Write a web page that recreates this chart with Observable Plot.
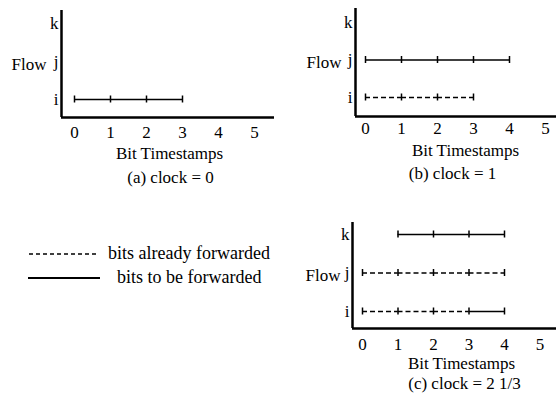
<!DOCTYPE html>
<html><head><meta charset="utf-8">
<script src="https://cdn.jsdelivr.net/npm/d3@7"></script>
<script src="https://cdn.jsdelivr.net/npm/@observablehq/plot@0.6"></script>
<style>
html,body{margin:0;padding:0;background:#fff;}
#root{position:relative;width:556px;height:394px;overflow:hidden;background:#fff;font-family:"Liberation Serif",serif;}
#root > svg{position:absolute;}
#root svg, #root svg text{font-family:"Liberation Serif",serif !important;}
</style></head><body><div id="root"></div>
<script>
const flows = ["i", "j", "k"];
const xTicks = [0, 1, 2, 3, 4, 5];
const captions = ["(a) clock = 0", "(b) clock = 1", "(c) clock = 2 1/3"];
const xLabel = "Bit Timestamps";
const yLabel = "Flow";
const legendLabels = ["bits already forwarded", "bits to be forwarded"];

// each bit: flow, start timestamp, end timestamp, already forwarded?
const bitsA = [
  {flow: "i", start: 0, end: 1, forwarded: false},
  {flow: "i", start: 1, end: 2, forwarded: false},
  {flow: "i", start: 2, end: 3, forwarded: false}
];
const bitsB = [
  {flow: "i", start: 0, end: 1, forwarded: true},
  {flow: "i", start: 1, end: 2, forwarded: true},
  {flow: "i", start: 2, end: 3, forwarded: true},
  {flow: "j", start: 0, end: 1, forwarded: false},
  {flow: "j", start: 1, end: 2, forwarded: false},
  {flow: "j", start: 2, end: 3, forwarded: false},
  {flow: "j", start: 3, end: 4, forwarded: false}
];
const bitsC = [
  {flow: "i", start: 0, end: 1, forwarded: true},
  {flow: "i", start: 1, end: 2, forwarded: true},
  {flow: "i", start: 2, end: 3, forwarded: true},
  {flow: "i", start: 3, end: 4, forwarded: false},
  {flow: "j", start: 0, end: 1, forwarded: true},
  {flow: "j", start: 1, end: 2, forwarded: true},
  {flow: "j", start: 2, end: 3, forwarded: true},
  {flow: "j", start: 3, end: 4, forwarded: true},
  {flow: "k", start: 1, end: 2, forwarded: false},
  {flow: "k", start: 2, end: 3, forwarded: false},
  {flow: "k", start: 3, end: 4, forwarded: false}
];

const FONT = "Liberation Serif";
const root = document.getElementById("root");

function panel(bits, caption, g) {
  const W = 300, H = 200;
  const right = g.axisLeft + 213;
  const unitY = (g.rowI - g.rowK) / 2;
  const xd = [(g.axisLeft - g.zeroX) / g.unit, (right - g.zeroX) / g.unit];
  const yd = [(g.rowI - g.axisBottom) / unitY, (g.rowI - g.yTop) / unitY];
  const row = d => flows.indexOf(d.flow);
  const edges = [];
  const seen = new Set();
  for (const b of bits) for (const x of [b.start, b.end]) {
    const key = b.flow + ":" + x;
    if (!seen.has(key)) { seen.add(key); edges.push({flow: b.flow, x}); }
  }
  const chart = Plot.plot({
    width: W, height: H,
    marginLeft: g.axisLeft - g.left,
    marginTop: g.yTop - g.top,
    marginRight: W - (right - g.left),
    marginBottom: H - (g.axisBottom - g.top),
    x: {domain: xd},
    y: {domain: yd},
    style: {fontFamily: FONT, fontSize: "17px", color: "black", background: "transparent", overflow: "visible"},
    marks: [
      Plot.ruleY(bits.filter(d => d.forwarded), {x1: "start", x2: "end", y: row, stroke: "black", strokeWidth: 1.5, strokeDasharray: "5,3"}),
      Plot.ruleY(bits.filter(d => !d.forwarded), {x1: "start", x2: "end", y: row, stroke: "black", strokeWidth: 1.6}),
      Plot.ruleX(edges, {x: "x", y1: row, y2: row, insetTop: -3.5, insetBottom: -3.5, stroke: "black", strokeWidth: 1.5}),
      Plot.ruleX([xd[0]], {y1: yd[0], y2: yd[1], stroke: "black", strokeWidth: 2.5}),
      Plot.ruleY([yd[0]], {x1: xd[0], x2: xd[1], stroke: "black", strokeWidth: 2.5}),
      Plot.axisY({ticks: [0, 1, 2], tickFormat: d => flows[d], tickSize: 0, tickPadding: 3, label: null, fontSize: 17, fontFamily: FONT}),
      Plot.axisX({ticks: xTicks, tickFormat: d => String(d), tickSize: 0, tickPadding: g.tickPad, label: null, fontSize: 17, fontFamily: FONT}),
      Plot.text([yLabel], {text: d => d, x: xd[0], y: 1, dx: g.flowDx, dy: 3, textAnchor: "end", fontSize: 17, fontFamily: FONT}),
      Plot.text([xLabel], {text: d => d, frameAnchor: "bottom", lineAnchor: "middle", dx: g.lblDx, dy: g.lblDy, fontSize: 17, fontFamily: FONT}),
      Plot.text([caption], {text: d => d, frameAnchor: "bottom", lineAnchor: "middle", dx: g.capDx, dy: g.capDy, fontSize: 17, fontFamily: FONT})
    ]
  });
  chart.style.position = "absolute";
  chart.style.left = g.left + "px";
  chart.style.top = g.top + "px";
  root.appendChild(chart);
}

panel(bitsA, captions[0], {left: 0, top: 0, axisLeft: 61, yTop: 10, axisBottom: 117, zeroX: 74, unit: 36, rowI: 99, rowK: 23, tickPad: 8, flowDx: -15, lblDx: 1.5, lblDy: 36, capDx: 2.5, capDy: 60});
panel(bitsB, captions[1], {left: 270, top: 0, axisLeft: 355, yTop: 8, axisBottom: 116, zeroX: 365, unit: 36, rowI: 97, rowK: 22, tickPad: 5, flowDx: -14, lblDx: 3.5, lblDy: 34, capDx: -9.5, capDy: 57});
panel(bitsC, captions[2], {left: 270, top: 200, axisLeft: 352, yTop: 222, axisBottom: 328, zeroX: 362, unit: 35.5, rowI: 311, rowK: 234, tickPad: 9, flowDx: -12, lblDx: 2.5, lblDy: 35, capDx: 5.5, capDy: 55});

// legend
const ns = "http://www.w3.org/2000/svg";
const leg = document.createElementNS(ns, "svg");
leg.setAttribute("width", 280); leg.setAttribute("height", 60);
leg.style.position = "absolute"; leg.style.left = "0px"; leg.style.top = "240px";
const items = [
  {y: 14, x1: 29, x2: 98, dash: "4,3", sw: 1.5, tx: 108, label: legendLabels[0]},
  {y: 38, x1: 28, x2: 100, dash: null, sw: 2, tx: 117, label: legendLabels[1]}
];
for (const it of items) {
  const l = document.createElementNS(ns, "line");
  l.setAttribute("x1", it.x1); l.setAttribute("x2", it.x2);
  l.setAttribute("y1", it.y); l.setAttribute("y2", it.y);
  l.setAttribute("stroke", "black"); l.setAttribute("stroke-width", it.sw);
  if (it.dash) l.setAttribute("stroke-dasharray", it.dash);
  leg.appendChild(l);
  const t = document.createElementNS(ns, "text");
  t.setAttribute("x", it.tx); t.setAttribute("y", it.y + 5);
  t.setAttribute("font-size", 18);
  t.textContent = it.label;
  leg.appendChild(t);
}
root.appendChild(leg);
</script></body></html>
